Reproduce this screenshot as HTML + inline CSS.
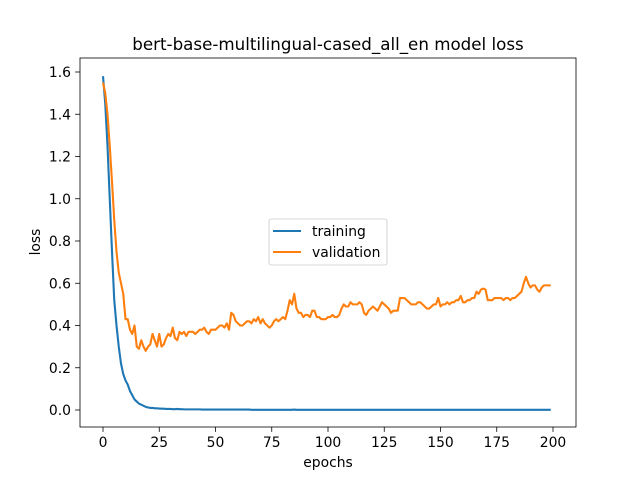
<!DOCTYPE html>
<html><head><meta charset="utf-8"><style>
body{margin:0;background:#fff;}
svg{display:block;font-family:"DejaVu Sans","Liberation Sans",sans-serif;}
</style></head><body>
<svg id="chart" width="640" height="480"></svg>
<script>
const epochTicks=[0,25,50,75,100,125,150,175,200];
const lossTicks=[0,0.2,0.4,0.6,0.8,1.0,1.2,1.4,1.6];
const trainingLoss=[1.58,1.45,1.25,1.0,0.75,0.52,0.40,0.30,0.22,0.17,
0.14,0.12,0.09,0.07,0.05,0.04,0.03,0.025,0.02,0.015,
0.012,0.01,0.01,0.008,0.008,0.007,0.006,0.006,0.005,0.005,
0.005,0.004,0.004,0.005,0.004,0.004,0.003,0.003,0.003,0.003,
0.003,0.003,0.003,0.003,0.002,0.002,0.002,0.002,0.002,0.002,
0.002,0.002,0.002,0.002,0.002,0.002,0.002,0.002,0.002,0.002,
0.002,0.002,0.002,0.002,0.002,0.002,0.001,0.001,0.001,0.001,
0.001,0.001,0.001,0.001,0.001,0.001,0.001,0.001,0.001,0.001,
0.001,0.001,0.001,0.001,0.001,0.002,0.001,0.001,0.001,0.001,
0.001,0.001,0.001,0.001,0.001,0.001,0.001,0.001,0.001,0.001,
0.001,0.001,0.001,0.001,0.001,0.001,0.001,0.001,0.001,0.001,
0.001,0.001,0.001,0.001,0.001,0.001,0.001,0.001,0.001,0.001,
0.001,0.001,0.001,0.001,0.001,0.001,0.001,0.001,0.001,0.001,
0.001,0.001,0.001,0.001,0.001,0.001,0.001,0.001,0.001,0.001,
0.001,0.001,0.001,0.001,0.001,0.001,0.001,0.001,0.001,0.001,
0.001,0.001,0.001,0.001,0.001,0.001,0.001,0.001,0.001,0.001,
0.001,0.001,0.001,0.001,0.001,0.001,0.001,0.001,0.001,0.001,
0.001,0.001,0.001,0.001,0.001,0.001,0.001,0.001,0.001,0.001,
0.001,0.001,0.001,0.001,0.001,0.001,0.001,0.001,0.001,0.001,
0.001,0.001,0.001,0.001,0.001,0.001,0.001,0.001,0.001,0.001];
const validationLoss=[1.55,1.50,1.40,1.25,1.08,0.90,0.75,0.65,0.60,0.55,
0.43,0.43,0.38,0.36,0.40,0.30,0.29,0.33,0.30,0.28,
0.30,0.31,0.36,0.33,0.30,0.36,0.30,0.31,0.34,0.36,
0.35,0.39,0.34,0.33,0.37,0.36,0.37,0.35,0.37,0.37,
0.37,0.36,0.37,0.38,0.38,0.39,0.37,0.36,0.38,0.38,
0.38,0.39,0.40,0.40,0.39,0.41,0.38,0.46,0.45,0.42,
0.41,0.40,0.40,0.41,0.42,0.42,0.41,0.43,0.42,0.44,
0.41,0.43,0.41,0.40,0.39,0.40,0.42,0.43,0.42,0.43,
0.44,0.43,0.47,0.52,0.50,0.55,0.48,0.46,0.46,0.44,
0.45,0.45,0.44,0.47,0.47,0.44,0.44,0.43,0.43,0.43,
0.44,0.44,0.45,0.44,0.44,0.45,0.48,0.50,0.49,0.49,
0.51,0.50,0.50,0.50,0.51,0.50,0.46,0.45,0.47,0.48,
0.49,0.48,0.47,0.49,0.51,0.50,0.49,0.48,0.46,0.47,
0.47,0.47,0.53,0.53,0.53,0.52,0.51,0.50,0.50,0.50,
0.51,0.51,0.50,0.49,0.48,0.48,0.49,0.50,0.50,0.53,
0.49,0.50,0.50,0.51,0.50,0.51,0.51,0.52,0.52,0.54,
0.51,0.51,0.52,0.52,0.53,0.53,0.56,0.55,0.57,0.575,
0.57,0.52,0.52,0.52,0.53,0.53,0.53,0.53,0.52,0.53,
0.53,0.52,0.53,0.53,0.54,0.55,0.56,0.60,0.63,0.60,
0.58,0.59,0.59,0.57,0.56,0.58,0.59,0.59,0.59,0.59];

const NS="http://www.w3.org/2000/svg";
const svg=document.getElementById('chart');
const L=80,R=576,T=58,B=427;
const xs=v=>103+v*2.25;
const ys=v=>410-v*211.25;
function mk(tag,attrs,parent){const e=document.createElementNS(NS,tag);for(const k in attrs)e.setAttribute(k,attrs[k]);(parent||svg).appendChild(e);return e;}

const frame=mk('rect',{x:L,y:T,width:R-L,height:B-T,fill:'none',stroke:'#000','stroke-width':0.8});



epochTicks.forEach(t=>{
  const x=xs(t);
  const tk=mk('line',{x1:x,x2:x,y1:B,y2:B+4.9,stroke:'#000','stroke-width':0.8});
  
  
  const lb=mk('text',{x:x,y:B+20,'font-size':13.9,'text-anchor':'middle'});
  lb.textContent=t;
  
  
});
lossTicks.forEach(t=>{
  const y=ys(t);
  const tk=mk('line',{x1:L-4.9,x2:L,y1:y,y2:y,stroke:'#000','stroke-width':0.8});
  
  
  const lb=mk('text',{x:L-9,y:y+5,'font-size':13.9,'text-anchor':'end'});
  lb.textContent=t.toFixed(1);
  
  
});

function series(data,color,name){
  const p=mk('polyline',{points:data.map((v,i)=>xs(i)+','+ys(v)).join(' '),fill:'none',stroke:color,'stroke-width':2.1,'stroke-linejoin':'round'});
  
  
}
series(trainingLoss,'#1f77b4','training-line');
series(validationLoss,'#ff7f0e','validation-line');

const title=mk('text',{x:328,y:50,'font-size':16.7,'text-anchor':'middle'});
title.textContent='bert-base-multilingual-cased_all_en model loss';


const xt=mk('text',{x:328,y:467,'font-size':13.9,'text-anchor':'middle'});
xt.textContent='epochs';


const yt=mk('text',{x:0,y:0,'font-size':13.9,'text-anchor':'middle',transform:'translate(40,242) rotate(-90)'});
yt.textContent='loss';



const lg=mk('g',{});


mk('rect',{x:269,y:219,width:118,height:46,rx:2,fill:'#fff',stroke:'#ccc','stroke-width':0.8},lg);
[['training','#1f77b4',231],['validation','#ff7f0e',252]].forEach(([n,c,y])=>{
  const e=mk('g',{},lg);
  
  
  mk('line',{x1:273,x2:301,y1:y,y2:y,stroke:c,'stroke-width':2.1},e);
  const t=mk('text',{x:312,y:y+5,'font-size':13.9},e);
  t.textContent=n;
});
</script>
</body></html>
